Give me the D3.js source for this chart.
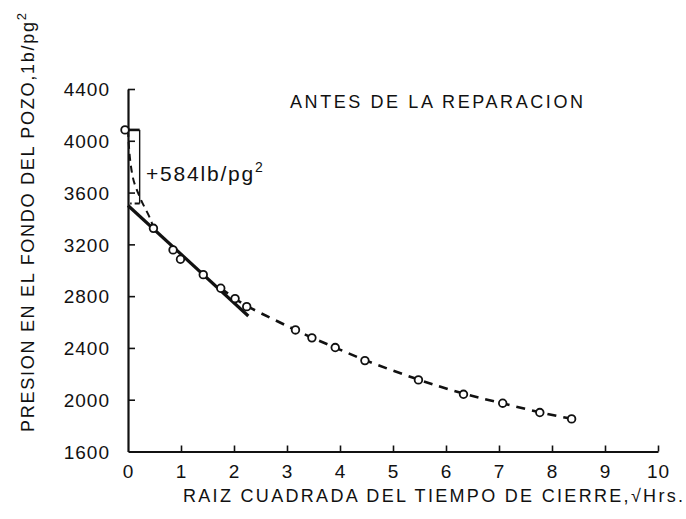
<!DOCTYPE html>
<html>
<head>
<meta charset="utf-8">
<script src="https://cdn.jsdelivr.net/npm/d3@7"></script>
<style>
  html, body { margin: 0; padding: 0; background: #fff; }
  svg text { font-family: "Liberation Sans", Arial, sans-serif; fill: #111; }
</style>
</head>
<body>
<svg id="chart" width="686" height="519"></svg>
<script>
// Pressure buildup vs square root of shut-in time
const xTicks = [0, 1, 2, 3, 4, 5, 6, 7, 8, 9, 10];
const yTicks = [1600, 2000, 2400, 2800, 3200, 3600, 4000, 4400];

// measured points (sqrt hrs, psi)
const sqrtHours = [0, 0.48, 0.85, 0.99, 1.42, 1.75, 2.02, 2.24, 3.16, 3.47, 3.91, 4.47, 5.48, 6.33, 7.07, 7.77, 8.37];
const pressure  = [4084, 3324, 3157, 3085, 2966, 2861, 2781, 2719, 2539, 2478, 2403, 2302, 2153, 2042, 1973, 1901, 1852];

// straight-line fit, extrapolated to zero
const fitX = [0, 2.27];
const fitY = [3500, 2647];
const jump = 584; // difference between initial reading and intercept

// early-time departure from the straight line
const hookX = [0, 0.09, 0.23, 0.45, 0.48];
const hookY = [4084, 3720, 3558, 3365, 3324];

const svg = d3.select("#chart");
const x = d3.scaleLinear().domain([0, 10]).range([128, 658]);
const y = d3.scaleLinear().domain([1600, 4400]).range([451.5, 89]);

const ink = "#111";

// axes
const xAxis = svg.append("g").attr("transform", `translate(0,${y(1600)})`)
  .call(d3.axisBottom(x).tickValues(xTicks).tickFormat(d3.format("d"))
    .tickSize(-6).tickPadding(10).tickSizeOuter(0));
const yAxis = svg.append("g").attr("transform", `translate(${x(0)},0)`)
  .call(d3.axisLeft(y).tickValues(yTicks).tickFormat(d3.format("d"))
    .tickSize(-7).tickPadding(18).tickSizeOuter(0));
[xAxis, yAxis].forEach(g => {
  g.select(".domain").attr("stroke", ink).attr("stroke-width", 2.2);
  g.selectAll(".tick line").attr("stroke", ink).attr("stroke-width", 1.6);
  g.selectAll(".tick text").attr("font-size", 19).attr("letter-spacing", 1).attr("fill", ink);
});
xAxis.selectAll(".tick text").attr("dy", "0.85em");
yAxis.selectAll(".tick text").attr("dy", "0.36em");
// no tick at the corner
xAxis.selectAll(".tick").filter(d => d === 0).select("line").remove();
yAxis.selectAll(".tick").filter(d => d === 1600).select("line").remove();

// dashed trend through the later points
const curve = sqrtHours.map((v, i) => [v, pressure[i]]).filter(d => d[0] >= 1.75);
const line = d3.line().x(d => x(d[0])).y(d => y(d[1])).curve(d3.curveBasis);
svg.append("path").attr("d", line(curve))
  .attr("fill", "none").attr("stroke", ink).attr("stroke-width", 2.6)
  .attr("stroke-dasharray", "9,7");

// early hook (dashed)
svg.append("path").attr("d", d3.line().x(d => x(d[0])).y(d => y(d[1])).curve(d3.curveMonotoneY)(hookX.map((v, i) => [v, hookY[i]])))
  .attr("fill", "none").attr("stroke", ink).attr("stroke-width", 2)
  .attr("stroke-dasharray", "7,5");

// straight-line fit
svg.append("line")
  .attr("x1", x(fitX[0])).attr("y1", y(fitY[0]))
  .attr("x2", x(fitX[1])).attr("y2", y(fitY[1]))
  .attr("stroke", ink).attr("stroke-width", 3.2);

// bracket marking the jump
const bx = 0.22;
const initialP = fitY[0] + jump;
svg.append("line").attr("x1", x(0)).attr("x2", x(bx)).attr("y1", y(initialP)).attr("y2", y(initialP))
  .attr("stroke", ink).attr("stroke-width", 2.6);
svg.append("line").attr("x1", x(bx)).attr("x2", x(bx)).attr("y1", y(initialP)).attr("y2", y(fitY[0]) - 2)
  .attr("stroke", ink).attr("stroke-width", 1.4);
svg.append("line").attr("x1", x(bx)).attr("x2", x(0.04)).attr("y1", y(fitY[0]) - 2).attr("y2", y(fitY[0]) - 2)
  .attr("stroke", ink).attr("stroke-width", 2).attr("stroke-dasharray", "5,3");

// measured points
svg.append("g").selectAll("circle").data(sqrtHours.map((v, i) => [v, pressure[i]]))
  .join("circle")
  .attr("cx", d => x(d[0]) + (d[0] === 0 ? -3 : 0))
  .attr("cy", d => y(d[1]))
  .attr("r", 3.8)
  .attr("fill", "#fff").attr("stroke", ink).attr("stroke-width", 1.8);

// labels
const jumpLabel = svg.append("text").attr("x", 146).attr("y", 181).attr("font-size", 21).attr("letter-spacing", 1.8);
jumpLabel.append("tspan").text(`+${jump}lb/pg`);
jumpLabel.append("tspan").attr("dy", -9).attr("font-size", 14).text("2");

svg.append("text").attr("x", 290).attr("y", 108).attr("font-size", 18)
  .attr("textLength", 293).attr("lengthAdjust", "spacing")
  .text("ANTES DE LA REPARACION");

svg.append("text").attr("x", 183).attr("y", 502).attr("font-size", 18)
  .attr("textLength", 500).attr("lengthAdjust", "spacing")
  .text("RAIZ CUADRADA DEL TIEMPO DE CIERRE,√Hrs.");

const yTitle = svg.append("text").attr("transform", "translate(34,432) rotate(-90)").attr("font-size", 18);
yTitle.append("tspan").attr("textLength", 410).attr("lengthAdjust", "spacing").text("PRESION EN EL FONDO DEL POZO,1b/pg");
yTitle.append("tspan").attr("dy", -8).attr("font-size", 13).text("2");
</script>
</body>
</html>
